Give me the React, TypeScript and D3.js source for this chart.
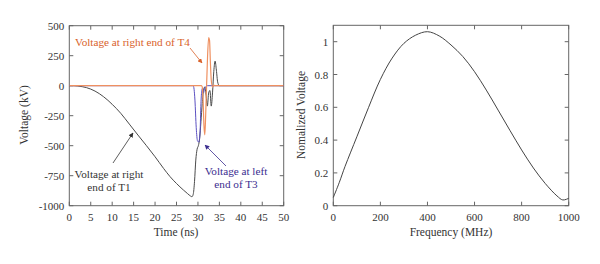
import React from "react";
import * as d3 from "d3";

// ---- Left panel data (time in ns, voltage in kV) ----
const t1Time = [0, 1, 2, 3, 4, 6, 8, 10, 12, 14, 16, 18, 20, 22, 23.5, 25, 26.6, 27.6, 28.3, 28.6, 28.9, 29.2, 29.5, 29.8, 30.1, 30.4, 30.7, 31.0, 31.3, 31.6, 31.9, 32.2, 32.5, 32.8, 33.1, 33.4, 33.7, 34.0, 34.3, 34.6, 35.0, 36, 40, 45, 50];
const t1Volt = [0, 0, -3, -8, -16, -45, -92, -155, -230, -320, -411, -500, -592, -690, -758, -815, -869, -900, -920, -925, -905, -800, -620, -530, -500, -440, -300, -150, -40, -10, -80, -170, -60, -40, -170, -60, 120, 205, 130, 30, 0, 0, 0, 0, 0];

const t4Time = [0, 30.8, 31.0, 31.2, 31.4, 31.6, 31.8, 32.0, 32.2, 32.5, 32.7, 32.9, 33.1, 33.4, 33.7, 34.0, 50];
const t4Volt = [0, 0, -10, -120, -330, -410, -250, -20, 200, 400, 380, 200, 50, -10, 5, 0, 0];

const t3Time = [0, 28.9, 29.1, 29.3, 29.6, 29.9, 30.2, 30.5, 30.7, 30.9, 31.1, 31.3, 31.5, 31.8, 32.2, 50];
const t3Volt = [0, 0, -30, -120, -350, -460, -470, -380, -150, -40, -20, -60, -30, -10, 0, 0];

const timeTicks = [0, 5, 10, 15, 20, 25, 30, 35, 40, 45, 50];
const voltTicks = [500, 250, 0, -250, -500, -750, -1000];

// ---- Right panel data (frequency in MHz, normalized voltage) ----
const freq = [0, 25, 50, 100, 150, 200, 250, 300, 350, 400, 450, 500, 550, 600, 650, 700, 750, 800, 850, 900, 950, 975, 1000];
const normV = [0.05, 0.14, 0.24, 0.42, 0.6, 0.77, 0.9, 0.99, 1.04, 1.061, 1.035, 0.98, 0.91, 0.817, 0.705, 0.583, 0.46, 0.34, 0.23, 0.136, 0.06, 0.035, 0.045];

const freqTicks = [0, 200, 400, 600, 800, 1000];
const normTicks = [0, 0.2, 0.4, 0.6, 0.8, 1];

const FONT = "'Liberation Serif', 'DejaVu Serif', serif";
const FRAME = "#666";
const TXT = "#333";
const BLACK = "#4a4a4a";
const ORANGE = "#ef9060";
const ORANGE_TXT = "#d9622b";
const BLUE = "#5a4fc0";
const BLUE_TXT = "#3b2d8f";

function Frame({ x, y, xt, yt, fmtY }: any) {
  const [x0, x1] = x.range();
  const [y0, y1] = y.range();
  const tl = 4;
  return (
    <g>
      <rect x={x0} y={y1} width={x1 - x0} height={y0 - y1} fill="none" stroke={FRAME} strokeWidth={1} />
      {xt.map((v: number) => (
        <g key={"x" + v}>
          <line x1={x(v)} x2={x(v)} y1={y0} y2={y0 - tl} stroke={FRAME} />
          <line x1={x(v)} x2={x(v)} y1={y1} y2={y1 + tl} stroke={FRAME} />
          <text x={x(v)} y={y0 + 15} textAnchor="middle" fontSize={11} fill={TXT}>{v}</text>
        </g>
      ))}
      {yt.map((v: number) => (
        <g key={"y" + v}>
          <line x1={x0} x2={x0 + tl} y1={y(v)} y2={y(v)} stroke={FRAME} />
          <line x1={x1} x2={x1 - tl} y1={y(v)} y2={y(v)} stroke={FRAME} />
          <text x={x0 - 5} y={y(v) + 4} textAnchor="end" fontSize={11} fill={TXT}>{fmtY(v)}</text>
        </g>
      ))}
    </g>
  );
}

export default function App() {
  const xL = d3.scaleLinear().domain([0, 50]).range([69.3, 283.7]);
  const yL = d3.scaleLinear().domain([-1000, 500]).range([205.7, 25.7]);
  const xR = d3.scaleLinear().domain([0, 1000]).range([333.3, 568.7]);
  const yR = d3.scaleLinear().domain([0, 1.1]).range([205.7, 25.3]);

  const lineL = (ts: number[], vs: number[]) =>
    d3.line<number>().x((d, i) => xL(ts[i])).y((d) => yL(d)).curve(d3.curveMonotoneX)(vs) || "";
  const lineR = d3.line<number>().x((d, i) => xR(freq[i])).y((d) => yR(d)).curve(d3.curveCatmullRom)(normV) || "";

  return (
    <svg width={600} height={264} style={{ position: "absolute", left: 0, top: 0, background: "#fff" }} fontFamily={FONT}>
      <defs>
        <marker id="arO" viewBox="0 0 10 10" refX="9" refY="5" markerWidth="6" markerHeight="6" orient="auto">
          <path d="M0,0 L10,5 L0,10 z" fill={ORANGE_TXT} />
        </marker>
        <marker id="arK" viewBox="0 0 10 10" refX="9" refY="5" markerWidth="6" markerHeight="6" orient="auto">
          <path d="M0,0 L10,5 L0,10 z" fill="#333" />
        </marker>
        <marker id="arB" viewBox="0 0 10 10" refX="9" refY="5" markerWidth="6" markerHeight="6" orient="auto">
          <path d="M0,0 L10,5 L0,10 z" fill={BLUE_TXT} />
        </marker>
        <clipPath id="clipL"><rect x={69.3} y={25.7} width={214.4} height={180} /></clipPath>
      </defs>

      {/* Left panel */}
      <Frame x={xL} y={yL} xt={timeTicks} yt={voltTicks} fmtY={(v: number) => String(v)} />
      <g clipPath="url(#clipL)">
        <path d={lineL(t1Time, t1Volt)} fill="none" stroke={BLACK} strokeWidth={1} />
        <path d={lineL(t3Time, t3Volt)} fill="none" stroke={BLUE} strokeWidth={1} />
        <path d={lineL(t4Time, t4Volt)} fill="none" stroke={ORANGE} strokeWidth={1.2} />
      </g>
      <text x={176} y={236} textAnchor="middle" fontSize={11.5} fill={TXT}>Time (ns)</text>
      <text transform="translate(28,115) rotate(-90)" textAnchor="middle" fontSize={11.5} fill={TXT}>Voltage (kV)</text>

      <text x={75} y={46} fontSize={11.2} fill={ORANGE_TXT}>Voltage at right end of T4</text>
      <line x1={190} y1={48} x2={202} y2={63} stroke={ORANGE_TXT} strokeWidth={0.8} markerEnd="url(#arO)" />

      <text x={109} y={178} textAnchor="middle" fontSize={11.2} fill={TXT}>Voltage at right</text>
      <text x={109} y={191} textAnchor="middle" fontSize={11.2} fill={TXT}>end of T1</text>
      <line x1={113} y1={163} x2={133} y2={133} stroke="#333" strokeWidth={0.8} markerEnd="url(#arK)" />

      <text x={236} y={175} textAnchor="middle" fontSize={11.2} fill={BLUE_TXT}>Voltage at left</text>
      <text x={236} y={188} textAnchor="middle" fontSize={11.2} fill={BLUE_TXT}>end of T3</text>
      <line x1={226} y1={166} x2={205} y2={145} stroke={BLUE_TXT} strokeWidth={0.8} markerEnd="url(#arB)" />

      {/* Right panel */}
      <Frame x={xR} y={yR} xt={freqTicks} yt={normTicks} fmtY={(v: number) => String(v)} />
      <path d={lineR} fill="none" stroke="#444" strokeWidth={1} />
      <text x={451} y={236} textAnchor="middle" fontSize={11.5} fill={TXT}>Frequency (MHz)</text>
      <text transform="translate(305,115) rotate(-90)" textAnchor="middle" fontSize={11.5} fill={TXT}>Nomalized Voltage</text>
    </svg>
  );
}
